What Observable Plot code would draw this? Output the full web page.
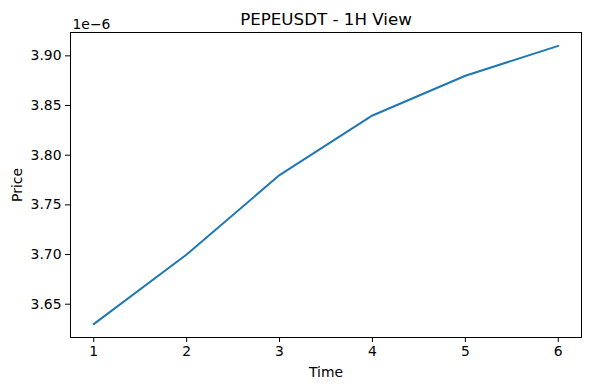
<!DOCTYPE html>
<html>
<head>
<meta charset="utf-8">
<script src="https://cdn.jsdelivr.net/npm/d3@7"></script>
<script src="https://cdn.jsdelivr.net/npm/@observablehq/plot@0.6"></script>
<style>
  html, body { margin: 0; padding: 0; background: white; }
</style>
</head>
<body>
<div id="chart"></div>
<script>
const time = [1, 2, 3, 4, 5, 6];
const price = [3.63e-6, 3.70e-6, 3.78e-6, 3.84e-6, 3.88e-6, 3.91e-6];
const xTicks = [1, 2, 3, 4, 5, 6];
const yTicks = [3.65e-6, 3.70e-6, 3.75e-6, 3.80e-6, 3.85e-6, 3.90e-6];
const title = "PEPEUSDT - 1H View";
const offsetText = "1e\u22126";

const data = time.map((t, i) => ({time: t, price: price[i]}));

const chart = Plot.plot({
  width: 590,
  height: 390,
  marginLeft: 70,
  marginRight: 9,
  marginTop: 32,
  marginBottom: 53,
  style: {fontFamily: "DejaVu Sans", fontSize: "13.9px", color: "black", background: "white"},
  x: {domain: [0.75, 6.25]},
  y: {domain: [3.6165e-6, 3.9235e-6]},
  marks: [
    Plot.frame({stroke: "black", strokeWidth: 1}),
    Plot.axisX(xTicks, {tickSize: 5, tickPadding: 4, tickFormat: d => String(d), label: "Time", labelAnchor: "center", labelOffset: 39, labelArrow: "none", fontSize: "13.9px"}),
    Plot.axisY(yTicks, {tickSize: 5, tickPadding: 4, tickFormat: d => (d * 1e6).toFixed(2), label: "Price", labelAnchor: "center", labelOffset: 58, labelArrow: "none", fontSize: "13.9px"}),
    Plot.line(data, {x: "time", y: "price", stroke: "#1f77b4", strokeWidth: 2}),
    Plot.text([title], {frameAnchor: "top", lineAnchor: "bottom", dy: -8, fontSize: 16.7, fill: "black"}),
    Plot.text([offsetText], {frameAnchor: "top-left", textAnchor: "start", lineAnchor: "bottom", dx: 2, dy: -4, fontSize: 13.9, fill: "black"})
  ]
});
document.getElementById("chart").appendChild(chart);
</script>
</body>
</html>
